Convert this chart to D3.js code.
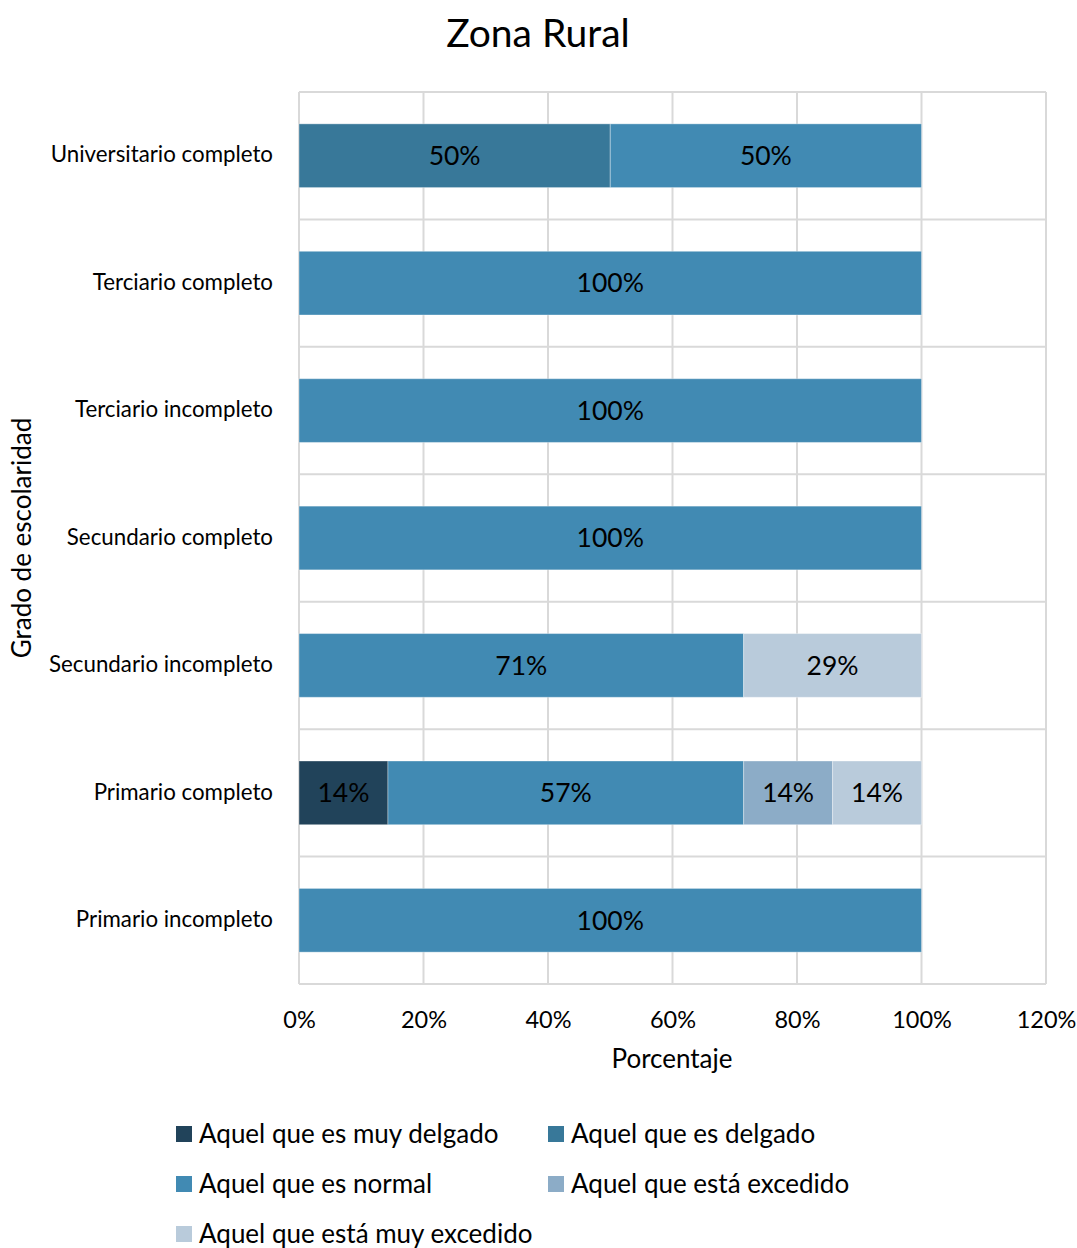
<!DOCTYPE html>
<html>
<head>
<meta charset="utf-8">
<script src="https://cdn.jsdelivr.net/npm/d3@7"></script>
<style>
  html, body { margin: 0; padding: 0; background: #fff; }
  svg { display: block; font-family: Lato, "Noto Sans", sans-serif; }
</style>
</head>
<body>
<svg id="chart" width="1077" height="1248"></svg>
<script>
// Education levels, drawn top to bottom
const categories = [
  "Universitario completo",
  "Terciario completo",
  "Terciario incompleto",
  "Secundario completo",
  "Secundario incompleto",
  "Primario completo",
  "Primario incompleto"
];

// Share of each body-image answer per education level (fractions of 1)
const muyDelgado   = [0,   0, 0, 0, 0,      0.1429, 0];
const delgado      = [0.5, 0, 0, 0, 0,      0,      0];
const normal       = [0.5, 1, 1, 1, 0.7143, 0.5714, 1];
const excedido     = [0,   0, 0, 0, 0,      0.1429, 0];
const muyExcedido  = [0,   0, 0, 0, 0.2857, 0.1429, 0];

const seriesNames = [
  "Aquel que es muy delgado",
  "Aquel que es delgado",
  "Aquel que es normal",
  "Aquel que está excedido",
  "Aquel que está muy excedido"
];
const seriesColors = ["#21435a", "#387899", "#418ab3", "#8cacc7", "#b9cbdb"];
const xTicks = [0, 0.2, 0.4, 0.6, 0.8, 1.0, 1.2];

const seriesValues = [muyDelgado, delgado, normal, excedido, muyExcedido];

const svg = d3.select("#chart");
const plot = { left: 299, right: 1046, top: 92, bottom: 984 };

const x = d3.scaleLinear().domain([0, 1.2]).range([plot.left, plot.right]);
const y = d3.scaleBand().domain(categories).range([plot.top, plot.bottom])
  .paddingInner(0.5).paddingOuter(0.25);

const pct = d3.format(".0%");

// Title
svg.append("text")
  .attr("x", 538).attr("y", 47)
  .attr("text-anchor", "middle")
  .attr("font-size", 39)
  .attr("fill", "#000")
  .text("Zona Rural");

// Gridlines: vertical at each tick, horizontal between categories
const grid = svg.append("g").attr("stroke", "#d9d9d9").attr("stroke-width", 2);
grid.selectAll("line.v").data(xTicks).join("line")
  .attr("x1", d => x(d)).attr("x2", d => x(d))
  .attr("y1", plot.top).attr("y2", plot.bottom);
const step = y.step();
grid.selectAll("line.h").data(d3.range(categories.length + 1)).join("line")
  .attr("x1", plot.left).attr("x2", plot.right)
  .attr("y1", i => plot.top + i * step).attr("y2", i => plot.top + i * step);

// Stacked bars
const rows = categories.map((c, i) => {
  const r = { cat: c };
  seriesNames.forEach((s, k) => r[s] = seriesValues[k][i]);
  return r;
});
const stack = d3.stack().keys(seriesNames)(rows);

const layers = svg.append("g").selectAll("g").data(stack).join("g")
  .attr("fill", (d, k) => seriesColors[k]);

layers.selectAll("rect")
  .data(d => d.filter(p => p[1] - p[0] > 0))
  .join("rect")
  .attr("x", d => x(d[0]))
  .attr("width", d => x(d[1]) - x(d[0]))
  .attr("y", d => y(d.data.cat))
  .attr("height", y.bandwidth())
  .attr("stroke", "rgba(255,255,255,0.35)")
  .attr("stroke-width", 1);

// Value labels centred in each segment
layers.selectAll("text")
  .data(d => d.filter(p => p[1] - p[0] > 0))
  .join("text")
  .attr("x", d => (x(d[0]) + x(d[1])) / 2)
  .attr("y", d => y(d.data.cat) + y.bandwidth() / 2)
  .attr("dy", "0.35em")
  .attr("text-anchor", "middle")
  .attr("font-size", 26.5)
  .attr("fill", "#000")
  .text(d => pct(d[1] - d[0]));

// Category labels
svg.append("g").selectAll("text").data(categories).join("text")
  .attr("x", 273)
  .attr("y", d => y(d) + y.bandwidth() / 2)
  .attr("dy", "0.3em")
  .attr("text-anchor", "end")
  .attr("font-size", 22.3)
  .attr("fill", "#000")
  .text(d => d);

// X axis tick labels
const xAxis = d3.axisBottom(x).tickValues(xTicks).tickFormat(d3.format(".0%")).tickSize(0).tickPadding(0);
const gx = svg.append("g").attr("transform", `translate(0, ${plot.bottom + 27})`).call(xAxis);
gx.select(".domain").remove();
gx.selectAll("text").attr("font-size", 23.5).attr("font-family", "Lato, 'Noto Sans', sans-serif").attr("fill", "#000");

// Axis titles
svg.append("text")
  .attr("x", 672).attr("y", 1068)
  .attr("text-anchor", "middle")
  .attr("font-size", 26)
  .attr("fill", "#000")
  .text("Porcentaje");

svg.append("text")
  .attr("transform", "translate(31, 538) rotate(-90)")
  .attr("text-anchor", "middle")
  .attr("font-size", 26)
  .attr("fill", "#000")
  .text("Grado de escolaridad");

// Legend: two columns, filled row by row
const legend = svg.append("g");
const legendItems = legend.selectAll("g").data(seriesNames).join("g")
  .attr("transform", (d, i) => `translate(${i % 2 === 0 ? 176 : 548}, ${1134 + Math.floor(i / 2) * 50})`);
legendItems.append("rect")
  .attr("x", 0).attr("y", -8).attr("width", 16).attr("height", 16)
  .attr("fill", (d, i) => seriesColors[i]);
legendItems.append("text")
  .attr("x", 23).attr("y", 0).attr("dy", "0.35em")
  .attr("font-size", 26)
  .attr("fill", "#000")
  .text(d => d);
</script>
</body>
</html>
